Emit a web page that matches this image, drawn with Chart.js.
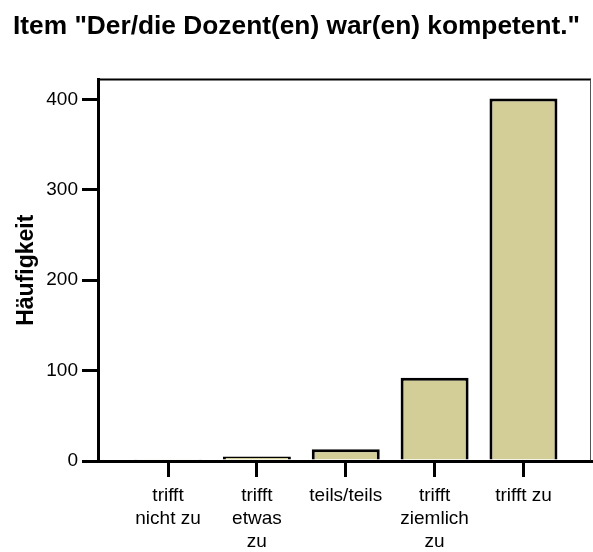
<!DOCTYPE html>
<html>
<head>
<meta charset="utf-8">
<script src="https://cdn.jsdelivr.net/npm/chart.js@4/dist/chart.umd.min.js"></script>
<style>
  body { margin: 0; background: #fff; }
  #wrap { width: 593px; height: 552px; }
</style>
</head>
<body>
<div id="wrap"><canvas id="chart"></canvas></div>
<script>
'use strict';

// Antwortkategorien (mehrzeilige Achsenbeschriftung)
const categories = [
    ["trifft", "nicht zu"],
    ["trifft", "etwas", "zu"],
    ["teils/teils"],
    ["trifft", "ziemlich", "zu"],
    ["trifft zu"]
];
const positions = [1, 2, 3, 4, 5];
const counts = [2, 5, 13, 92, 401];
const yTicks = [0, 100, 200, 300, 400];

const titleText = 'Item "Der/die Dozent(en) war(en) kompetent."';
const yTitle = "Häufigkeit";

const FONT = 'Arial, "Liberation Sans", sans-serif';

// oberer und rechter Rahmen um den Plotbereich
const frame = {
    id: "frame",
    afterDraw(chart) {
        const {ctx, chartArea: a} = chart;
        const y0 = chart.scales.y.getPixelForValue(0);
        ctx.save();
        ctx.strokeStyle = "#000";
        ctx.lineWidth = 2;
        ctx.beginPath();
        ctx.moveTo(a.left, a.top);
        ctx.lineTo(a.right, a.top);
        ctx.stroke();
        ctx.strokeStyle = "#555";
        ctx.lineWidth = 1;
        ctx.beginPath();
        ctx.moveTo(a.right - 0.5, a.top);
        ctx.lineTo(a.right - 0.5, a.bottom);
        ctx.stroke();
        // x-Achse über die Balken legen
        ctx.strokeStyle = "#000";
        ctx.lineWidth = 2.5;
        ctx.beginPath();
        ctx.moveTo(a.left, y0 + 0.5);
        ctx.lineTo(a.right, y0 + 0.5);
        ctx.stroke();
        ctx.restore();
    }
};

new Chart("chart", {
    type: "bar",
    data: {
        datasets: [{
            data: positions.map((x, i) => ({x: x, y: counts[i]})),
            backgroundColor: "#d3ce98",
            borderColor: "#000",
            borderWidth: 3,
            borderSkipped: "start",
            barPercentage: 0.765,
            categoryPercentage: 1
        }]
    },
    options: {
        responsive: true,
        maintainAspectRatio: false,
        animation: false,
        layout: {padding: {left: 13, right: 2, top: 0, bottom: 0}},
        plugins: {
            legend: {display: false},
            tooltip: {enabled: false},
            title: {
                display: true,
                text: titleText,
                align: "start",
                color: "#000",
                font: {family: FONT, size: 26.3, weight: "bold", lineHeight: 1.2},
                padding: {top: 11, bottom: 37}
            }
        },
        scales: {
            x: {
                type: "linear",
                offset: false,
                min: 0.212,
                max: 5.76,
                afterBuildTicks: (scale) => {
                    scale.ticks = positions.map(v => ({value: v}));
                },
                afterFit: (scale) => { scale.height = 91; },
                border: {display: true, color: "#000", width: 3},
                grid: {
                    offset: false,
                    drawOnChartArea: false,
                    drawTicks: true,
                    tickLength: 16,
                    color: "#000",
                    lineWidth: 3
                },
                ticks: {
                    autoSkip: false,
                    maxRotation: 0,
                    padding: 7,
                    color: "#000",
                    font: {family: FONT, size: 19, lineHeight: 1.21},
                    callback: (v) => categories[positions.indexOf(v)]
                }
            },
            y: {
                min: 0,
                max: 422,
                afterBuildTicks: (scale) => {
                    scale.ticks = yTicks.map(v => ({value: v}));
                },
                afterFit: (scale) => { scale.width = 85; },
                border: {display: true, color: "#000", width: 3},
                grid: {
                    drawOnChartArea: false,
                    drawTicks: true,
                    tickLength: 16,
                    color: "#000",
                    lineWidth: 3
                },
                ticks: {
                    padding: 4,
                    color: "#000",
                    font: {family: FONT, size: 19}
                },
                title: {
                    display: true,
                    text: yTitle,
                    color: "#000",
                    font: {family: FONT, size: 23, weight: "bold", lineHeight: 1},
                    padding: {top: 2, bottom: 0}
                }
            }
        }
    },
    plugins: [frame]
});
</script>
</body>
</html>
